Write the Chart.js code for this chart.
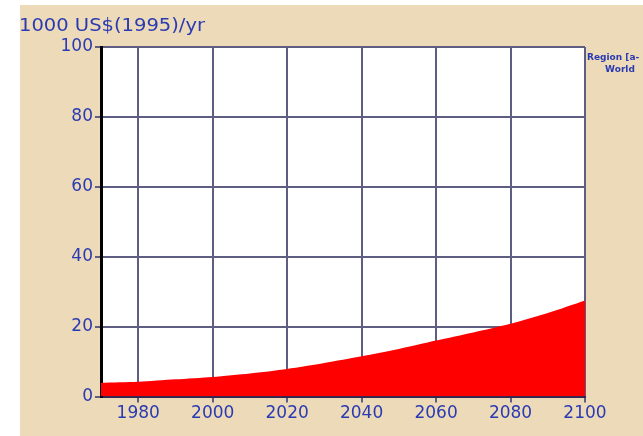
<!DOCTYPE html>
<html><head><meta charset="utf-8">
<script src="https://cdn.jsdelivr.net/npm/chart.js@4/dist/chart.umd.min.js"></script>
<style>
html,body{margin:0;padding:0;background:#fff;width:643px;height:436px;overflow:hidden}
#wrap{position:absolute;left:20px;top:5px;width:623px;height:431px;background:#ecdab9}
</style></head>
<body><div id="wrap"><canvas id="c" width="623" height="431"></canvas></div>
<script>
const years = [1970,1980,1990,2000,2010,2020,2030,2040,2050,2060,2070,2080,2090,2100];
const gdpPerCapita = [3.9,4.2,4.9,5.6,6.6,7.9,9.6,11.5,13.6,16.0,18.3,20.8,23.9,27.5];
const xTicks = [1980,2000,2020,2040,2060,2080,2100];
const yTicks = [0,20,40,60,80,100];
const unitLabel = '1000 US$(1995)/yr';
const legendLines = ['Region [a-','World'];

const BLUE = '#2a3ab2';
const GRID = '#5e5e82';

const bgPlugin = {
  id:'plotBg',
  beforeDraw(chart){
    const a = chart.chartArea, ctx = chart.ctx;
    ctx.save();
    ctx.fillStyle = '#ffffff';
    ctx.fillRect(a.left, a.top, a.right - a.left, a.bottom - a.top);
    ctx.restore();
  }
};

const textPlugin = {
  id:'texts',
  afterDraw(chart){
    const ctx = chart.ctx;
    ctx.save();
    ctx.fillStyle = BLUE;
    ctx.font = '17px "DejaVu Sans"';
    ctx.textBaseline = 'middle';
    const w = ctx.measureText(unitLabel).width;
    ctx.translate(-1, 22);
    ctx.scale(186 / w, 1);
    ctx.fillText(unitLabel, 0, 0);
    ctx.restore();
    ctx.save();
    ctx.fillStyle = BLUE;
    ctx.font = 'bold 9px "DejaVu Sans"';
    ctx.textBaseline = 'middle';
    ctx.textAlign = 'left';
    ctx.fillText(legendLines[0], 567, 53);
    ctx.textAlign = 'center';
    ctx.fillText(legendLines[1], 600, 65);
    ctx.restore();
  }
};

new Chart(document.getElementById('c'), {
  type:'line',
  data:{
    datasets:[{
      data: years.map((y,i)=>({x:y, y:gdpPerCapita[i]})),
      fill:'origin',
      backgroundColor:'#ff0000',
      borderColor:'#ff0000',
      borderWidth:0,
      pointRadius:0,
      tension:0.25
    }]
  },
  options:{
    responsive:false,
    animation:false,
    layout:{padding:{top:42,right:58,bottom:0,left:0}},
    plugins:{legend:{display:false},tooltip:{enabled:false},title:{display:false}},
    scales:{
      x:{
        type:'linear', min:1970, max:2100,
        afterBuildTicks(s){ s.ticks = xTicks.map(v=>({value:v})); },
        afterFit(s){ s.height = 39.5; },
        grid:{color:GRID, lineWidth:2, tickLength:6, tickColor:GRID},
        border:{color:'#2a2a55', width:2},
        ticks:{color:BLUE, font:{family:'"DejaVu Sans"', size:17}, padding:1, maxRotation:0, autoSkip:false,
          callback:(v)=>String(v)}
      },
      y:{
        min:0, max:100,
        afterBuildTicks(s){ s.ticks = yTicks.map(v=>({value:v})); },
        afterFit(s){ s.width = 81; },
        grid:{color:GRID, lineWidth:2, tickLength:6, tickColor:GRID},
        border:{color:'#000000', width:3},
        ticks:{color:BLUE, font:{family:'"DejaVu Sans"', size:17}, padding:2}
      }
    }
  },
  plugins:[bgPlugin, textPlugin]
});
</script>
</body></html>
